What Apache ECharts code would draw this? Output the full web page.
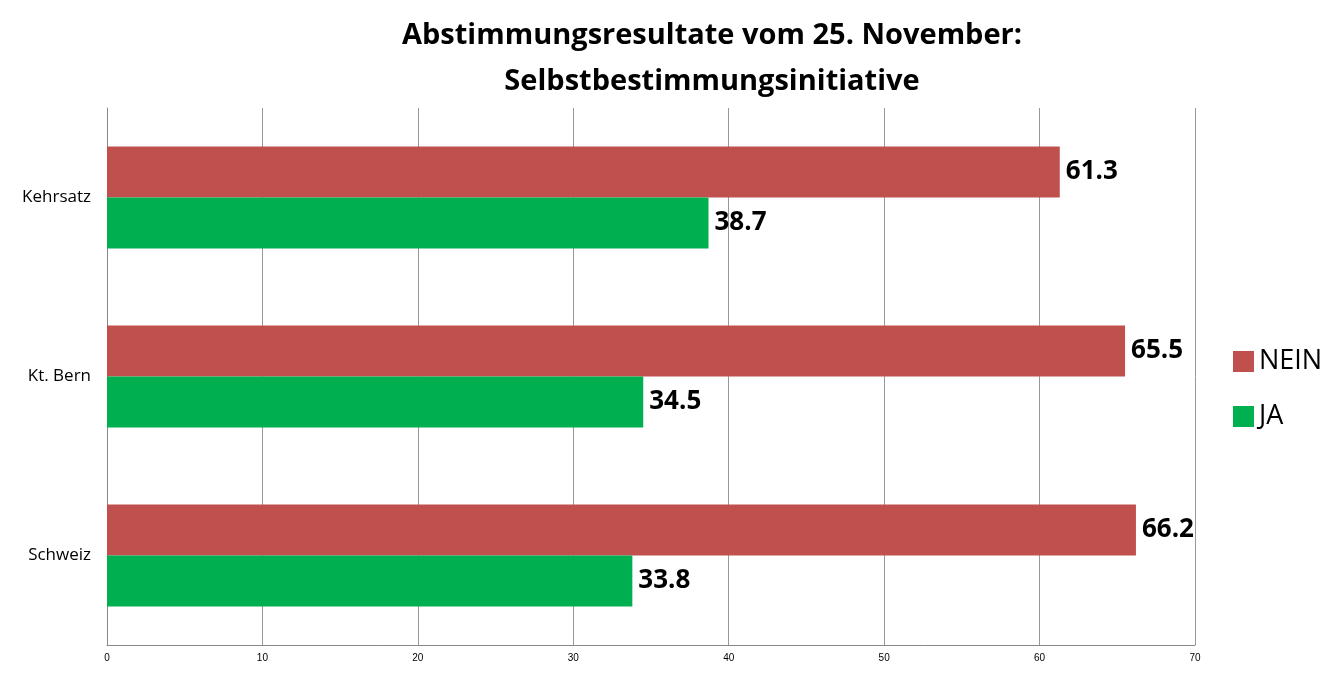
<!DOCTYPE html>
<html>
<head>
<meta charset="utf-8">
<script src="https://cdn.jsdelivr.net/npm/echarts@6/dist/echarts.min.js"></script>
<style>html,body{margin:0;padding:0;background:#fff}#chart{width:1343px;height:673px}</style>
</head>
<body>
<div id="chart"></div>
<script>
var categories = ['Kehrsatz', 'Kt. Bern', 'Schweiz'];
var neinValues = [61.3, 65.5, 66.2];
var jaValues = [38.7, 34.5, 33.8];

var labelStyle = {
    show: true,
    position: 'right',
    fontFamily: 'Open Sans',
    fontWeight: 'bold',
    fontSize: 26,
    color: '#000',
    distance: 6
};

var option = {
    color: ['#C0504D', '#00B050'],
    title: {
        text: 'Abstimmungsresultate vom 25. November:\nSelbstbestimmungsinitiative',
        left: 707,
        textAlign: 'center',
        top: 8,
        textStyle: {
            fontFamily: 'Open Sans',
            fontWeight: 'bold',
            fontSize: 29,
            lineHeight: 46,
            color: '#000'
        }
    },
    legend: {
        orient: 'vertical',
        left: 1228,
        top: 343,
        itemWidth: 21,
        itemHeight: 21,
        itemGap: 28,
        icon: 'rect',
        textStyle: { fontFamily: 'Open Sans', fontSize: 27, color: '#000' },
        data: ['NEIN', 'JA']
    },
    grid: { left: 107, right: 148, top: 108, bottom: 28 },
    xAxis: {
        type: 'value',
        min: 0,
        max: 70,
        interval: 10,
        axisLine: { show: true, lineStyle: { color: '#888' } },
        axisTick: { show: false },
        axisLabel: { fontSize: 10, color: '#000', margin: 8 },
        splitLine: { lineStyle: { color: '#999' } }
    },
    yAxis: {
        type: 'category',
        inverse: true,
        data: categories,
        axisLine: { show: true, lineStyle: { color: '#888' } },
        axisTick: { show: false },
        axisLabel: { fontFamily: 'Open Sans', fontSize: 17, color: '#000', margin: 16 }
    },
    series: [{
        name: 'NEIN',
        type: 'bar',
        barWidth: 51,
        barGap: '0%',
        data: neinValues,
        label: labelStyle
    }, {
        name: 'JA',
        type: 'bar',
        barWidth: 51,
        barGap: '0%',
        data: jaValues,
        label: labelStyle
    }]
};
var myChart = echarts.init(document.getElementById('chart'));
myChart.setOption(option);
</script>
</body>
</html>
